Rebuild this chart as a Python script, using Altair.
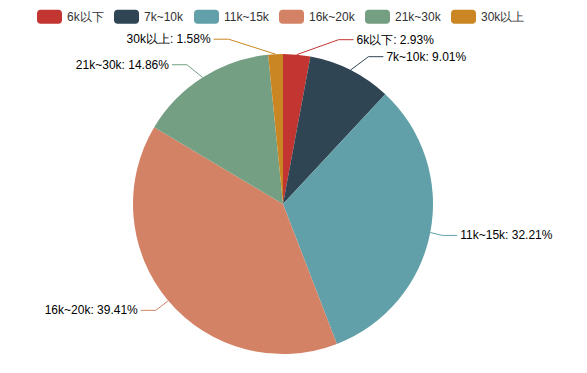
import math
import altair as alt
import pandas as pd

# ---- data ----
categories = ["6k以下", "7k~10k", "11k~15k", "16k~20k", "21k~30k", "30k以上"]
values = [2.93, 9.01, 32.21, 39.41, 14.86, 1.58]
colors = ["#c23531", "#2f4554", "#61a0a8", "#d48265", "#749f83", "#ca8622"]

# ---- layout constants ----
W, H = 571, 357
CX, CY, R = 275, 196, 150
LEN1, LEN2 = 15, 15
FONT = "Liberation Sans"

total = float(sum(values))
pie_df = pd.DataFrame({
    "name": categories,
    "value": values,
    "idx": list(range(len(categories))),
})

# ---- outside-label layout computed from the values (ECharts-like) ----
items = []
cum = 0.0
for i, (c, v, col) in enumerate(zip(categories, values, colors)):
    a0 = cum / total * 2 * math.pi
    cum += v
    a1 = cum / total * 2 * math.pi
    mid = (a0 + a1) / 2
    dx, dy = math.sin(mid), -math.cos(mid)
    d = 1 if dx >= 0 else -1
    items.append({
        "name": c, "col": col, "dir": d, "value": v,
        "x1": CX + R * dx, "y1": CY + R * dy,
        "x": CX + (R + LEN1) * dx + d * (LEN2 + 5),
        "y": CY + (R + LEN1) * dy,
        "h": 14,
    })


def adjust_side(lst, d):
    lst.sort(key=lambda it: it["y"])
    last = -1e9
    for i, it in enumerate(lst):
        delta = it["y"] - last
        if delta < 0:
            for j in range(i, len(lst)):
                lst[j]["y"] += -delta
        last = it["y"] + it["h"]
    up = [it for it in lst if it["y"] < CY]
    down = [it for it in lst if it["y"] >= CY]

    def change_x(sub, is_down):
        last_dx = 1e18 if is_down else 0
        for it in sub:
            dyy = abs(it["y"] - CY)
            if dyy < R + LEN1:
                ddx = math.sqrt((R + LEN1 + LEN2) ** 2 - dyy ** 2)
            else:
                ddx = abs(it["x"] - CX)
            if is_down and ddx >= last_dx:
                ddx = last_dx - 10
            if (not is_down) and ddx <= last_dx:
                ddx = last_dx + 10
            it["x"] = CX + ddx * d
            last_dx = ddx

    change_x(up, False)
    change_x(down, True)


adjust_side([it for it in items if it["dir"] > 0], 1)
adjust_side([it for it in items if it["dir"] < 0], -1)

line_rows, text_rows = [], []
for it in items:
    d = it["dir"]
    x3 = it["x"] - d * 3
    x2 = x3 - d * LEN2
    pts = [(it["x1"], it["y1"]), (x2, it["y"]), (x3, it["y"])]
    for k, (px, py) in enumerate(pts):
        line_rows.append({"name": it["name"], "col": it["col"], "k": k, "x": px, "y": py})
    text_rows.append({
        "name": it["name"], "x": it["x"], "y": it["y"],
        "side": "right" if d > 0 else "left",
        "label": f"{it['name']}: {it['value']:.2f}%",
    })
lines_df = pd.DataFrame(line_rows)
text_df = pd.DataFrame(text_rows)

ROUND_RECT = ("M-0.72,-0.56 L0.72,-0.56 A0.28,0.28 0 0 1 1,-0.28 L1,0.28 "
              "A0.28,0.28 0 0 1 0.72,0.56 L-0.72,0.56 A0.28,0.28 0 0 1 -1,0.28 "
              "L-1,-0.28 A0.28,0.28 0 0 1 -0.72,-0.56 Z")

arcs = alt.Chart(pie_df).mark_arc(outerRadius=R).encode(
    theta=alt.Theta("value:Q", stack=True),
    color=alt.Color(
        "name:N",
        sort=categories,
        scale=alt.Scale(domain=categories, range=colors),
        legend=alt.Legend(
            orient="none", legendX=29, legendY=-4, direction="horizontal",
            title=None, symbolType=ROUND_RECT, symbolSize=625,
            symbolStrokeWidth=0, symbolOpacity=1,
            labelFont=FONT, labelFontSize=12, labelColor="#333",
            labelOffset=5, columnPadding=10, padding=0,
        ),
    ),
    order=alt.Order("idx:Q"),
    x=alt.value(CX),
    y=alt.value(CY),
)

leaders = alt.Chart(lines_df).mark_line(strokeWidth=1).encode(
    x=alt.X("x:Q", scale=None, axis=None),
    y=alt.Y("y:Q", scale=None, axis=None),
    detail="name:N",
    order="k:Q",
    color=alt.Color("col:N", scale=None),
)

labels_r = alt.Chart(text_df).transform_filter("datum.side == 'right'").mark_text(
    align="left", baseline="middle", font=FONT, fontSize=12, color="#000"
).encode(
    x=alt.X("x:Q", scale=None, axis=None),
    y=alt.Y("y:Q", scale=None, axis=None),
    text="label:N",
)

labels_l = alt.Chart(text_df).transform_filter("datum.side == 'left'").mark_text(
    align="right", baseline="middle", font=FONT, fontSize=12, color="#000"
).encode(
    x=alt.X("x:Q", scale=None, axis=None),
    y=alt.Y("y:Q", scale=None, axis=None),
    text="label:N",
)

chart = alt.layer(arcs, leaders, labels_r, labels_l).properties(
    width=W, height=H,
    autosize=alt.AutoSizeParams(type="none"),
    padding=0,
).configure_view(stroke=None)

chart.save("out.html", embed_options={"renderer": "svg", "actions": False})
